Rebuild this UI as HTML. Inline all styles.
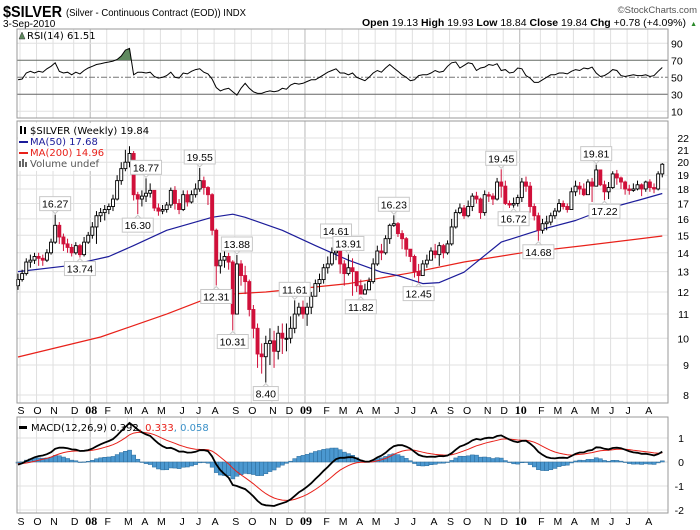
<!DOCTYPE html>
<html><head><meta charset="utf-8"><style>
html,body{margin:0;padding:0;background:#fff;}
svg{display:block;font-family:"Liberation Sans",sans-serif;}
</style></head><body>
<svg id="chart" width="700" height="530" viewBox="0 0 700 530" xmlns="http://www.w3.org/2000/svg">
<rect x="0" y="0" width="700" height="530" fill="#fff"/>
<g id="header">
<text x="3" y="17" font-size="16" font-weight="bold" textLength="59" lengthAdjust="spacingAndGlyphs">$SILVER</text>
<text x="66" y="16" font-size="10.5" textLength="180" lengthAdjust="spacingAndGlyphs">(Silver - Continuous Contract (EOD)) INDX</text>
<text x="697" y="13" font-size="9.5" fill="#555" text-anchor="end">©StockCharts.com</text>
<text x="3" y="27" font-size="10">3-Sep-2010</text>
<text x="686" y="26" font-size="10.5" text-anchor="end"><tspan font-weight="bold">Open</tspan> 19.13 <tspan font-weight="bold">High</tspan> 19.93 <tspan font-weight="bold">Low</tspan> 18.84 <tspan font-weight="bold">Close</tspan> 19.84 <tspan font-weight="bold">Chg</tspan> +0.78 (+4.09%)</text>
<text x="697" y="26" font-size="7" fill="#2a8a2a" text-anchor="end">▲</text>
</g>
<g id="rsiG"></g>
<g id="priceG"></g>
<g id="xaxisG"></g>
<g id="macdG"></g>
</svg>
<script>
const closes=[12.6,12.9,13.5,13.6, 13.8,13.7,13.6,14.0, 14.6,15.6,14.9,14.5,14.3, 14.0,14.4,13.9,14.6,
15.0,15.5,16.2,16.4, 16.6,16.8,17.3,18.6,19.5, 20.0,20.7,17.6,17.3, 17.5,17.7,17.9,16.7, 16.5,16.6,16.9,17.9,17.0, 16.6,17.6,17.1,17.6, 18.0,18.6,18.1,17.6, 15.3,13.3,13.6,13.8,13.5, 11.0,13.4,12.8,12.5, 11.2,10.4,9.4,9.3,9.8, 9.9,9.5,10.2,10.0, 10.0,10.4,11.0,11.3,
11.0,11.3,11.8,12.4,12.6, 13.2,13.4,14.0,14.1, 13.4,12.9,13.2,13.0, 12.3,11.9,12.1,12.5, 13.4,14.1,14.0,14.8,15.6, 15.7,15.1,14.8,14.2, 13.8,13.0,12.8,13.4,13.6, 14.1,13.9,14.4,14.0, 14.5,15.5,16.4,16.7, 16.2,16.8,17.5,17.3,16.4, 17.6,17.5,17.3,18.5, 18.2,17.0,16.9,17.0,
17.4,18.5,18.2,16.8,16.2, 15.3,15.7,15.8,16.2, 16.5,17.0,16.8,16.6, 17.8,18.2,18.0,17.6,18.5, 18.2,19.4,18.3,17.8, 18.1,19.1,18.8,18.5, 18.0,17.9,18.0,18.3,18.0, 18.5,18.1,18.0,19.1, 19.84];
const highs=[12.9,13.1,13.7,13.9, 14.0,14.0,13.9,14.2, 14.8,16.27,15.8,15.1,14.8, 14.5,14.6,14.5,14.9,
15.2,15.8,16.5,16.7, 16.9,17.0,17.6,19.0,20.0, 21.0,21.3,20.9,17.8, 17.9,18.77,18.4,17.9, 17.0,16.9,17.1,18.1,18.2, 17.3,17.9,17.9,17.9, 18.4,19.55,18.9,18.2, 17.7,15.4,14.0,14.1,14.0, 13.6,13.88,13.6,13.3, 12.6,11.4,10.6,9.8,10.1, 10.4,10.3,10.5,10.6, 10.6,10.9,11.61,11.5,
11.6,11.5,12.0,12.6,12.9, 13.4,13.8,14.3,14.61, 14.2,13.6,13.91,13.7, 13.0,12.6,12.4,12.7, 13.7,14.4,14.5,15.0,15.7, 16.23,15.8,15.3,14.9, 14.0,13.9,13.4,13.6,13.9, 14.3,14.5,14.6,14.5, 14.7,16.0,16.6,17.0, 16.9,17.2,17.7,17.8,17.4, 17.9,17.8,17.7,18.8, 19.45,18.6,17.2,17.4,
17.6,18.8,18.9,18.5,17.0, 16.4,16.0,16.2,16.4, 16.7,17.3,17.2,17.0, 18.1,18.6,18.5,18.4,18.7, 18.8,19.81,19.4,18.6, 18.5,19.3,19.4,18.9, 18.6,18.3,18.4,18.6,18.4, 18.6,18.7,18.4,19.3, 19.93];
const lows=[12.1,12.5,12.8,13.2, 13.4,13.3,13.3,13.5, 13.9,14.5,14.5,14.1,14.0, 13.8,13.9,13.74,13.8,
14.5,14.8,14.5,15.8, 15.9,16.3,16.5,17.2,18.3, 19.3,19.6,17.2,16.30, 16.8,17.1,17.4,16.5, 16.2,16.3,16.4,16.7,16.6, 16.3,16.5,16.8,17.0, 17.4,17.8,17.6,16.9, 15.0,12.31,12.9,13.2,13.1, 10.31,11.2,12.3,11.9, 10.9,10.0,8.9,8.7,8.40, 9.0,8.9,9.2,9.4, 9.5,9.8,10.2,10.9,
10.8,10.5,11.0,11.8,12.0, 12.4,12.9,13.3,13.6, 12.9,12.3,12.8,11.82, 12.0,11.9,11.9,12.2, 12.4,13.3,13.6,13.9,14.5, 15.5,14.9,14.2,13.8, 13.5,12.7,12.45,12.8,13.2, 13.6,13.7,13.3,13.7, 13.9,14.4,15.4,16.3, 16.0,16.1,16.5,17.0,16.0, 16.2,17.1,16.9,17.2, 17.4,16.9,16.7,16.72,
16.8,17.1,17.8,16.4,15.9, 14.68,15.1,15.3,15.6, 16.0,16.4,16.6,16.4, 16.9,17.5,17.6,17.5,17.6, 17.1,18.2,18.2,17.22, 17.3,18.0,18.3,18.0, 17.6,17.6,17.8,17.9,17.5, 17.8,17.8,17.7,17.9, 18.84];
const firstOpen=12.3;
const rsi=[47,48,55,57, 55,57,56,60, 63,67,57,55,56, 53,56,54,58,
61,63,65,66, 67,68,69,71,75, 82,84,53,56, 56,55,56,51, 49,50,52,56,50, 49,55,54,57, 59,60,56,54, 48,38,34,36,37, 33,29,37,43, 37,33,31,31,33, 34,33,34,37, 36,41,43,42,
43,45,47,47,50, 53,56,58,60, 55,55,53,55, 50,48,46,50, 55,58,56,61,65, 61,57,53,50, 46,47,52,53,53, 55,58,56,57, 63,67,68,61, 64,67,66,58,61, 62,65,64,66, 58,59,55,56,
61,60,52,49,44, 44,47,50,53, 53,55,55,54, 57,59,58,61,60, 62,55,51,52, 55,59,58,52, 51,52,53,52,52, 53,51,52,57, 61.5];
const ma50Weeks=[0,12,22,28,36,47,52,55,64,72,80,88,92,98,102,108,117,126,135,142,150,156];
const ma50Vals=[13.0,13.3,13.8,14.4,15.3,16.1,16.3,16.1,15.3,14.4,13.6,12.97,12.8,12.4,12.45,12.97,14.6,15.3,15.9,16.6,17.2,17.68];
const ma200Weeks=[0,20,36,48,60,80,96,108,122,137,156];
const ma200Vals=[9.29,10.05,11.0,11.86,12.0,12.4,12.97,13.5,14.0,14.4,14.96];
const annLabels=["16.27","13.74","16.30","18.77","19.55","12.31","10.31","13.88","8.40","11.61","14.61","13.91","11.82","16.23","12.45","19.45","16.72","14.68","19.81","17.22"];
const annWeeks=[9,15,29,31,44,48,52,53,60,67,77,80,83,91,97,117,120,126,140,142];
const annSide=["a","b","b","a","a","b","b","a","b","a","a","a","b","a","b","a","b","b","a","b"];
const monthLabels=["S","O","N","D","08","F","M","A","M","J","J","A","S","O","N","D","09","F","M","A","M","J","J","A","S","O","N","D","10","F","M","A","M","J","J","A"];
const monthWeeks=[0,4,8,13,17,21,26,30,34,39,43,47,52,56,61,65,69,74,78,82,86,91,95,100,104,108,113,117,121,126,130,134,139,143,147,152];
const priceTicks=[8,9,10,11,12,13,14,15,16,17,18,19,20,21,22];
const rsiTicks=[10,30,50,70,90];
const macdTicks=[1,0,-1,-2];

const NS="http://www.w3.org/2000/svg";
const L=17,R=668;
const X=w=>18+w*4.13;
const rsiTop=29,rsiBot=118, yR=v=>77.3-(v-50)*0.85;
const pTop=121,pBot=403, yP=p=>138+(Math.log(22)-Math.log(p))*254;
const mTop=417,mBot=513, yM=m=>462-24*m;
function mk(parent,tag,attrs){const e=document.createElementNS(NS,tag);for(const k in attrs)e.setAttribute(k,attrs[k]);parent.appendChild(e);return e;}

const rsiG=document.getElementById('rsiG'),priceG=document.getElementById('priceG'),xaxisG=document.getElementById('xaxisG'),macdG=document.getElementById('macdG');

function vgrid(g,top,bot){
  monthWeeks.forEach((w,i)=>{const yr=/\d/.test(monthLabels[i]);
    const ln=mk(g,'line',{x1:X(w)+2,x2:X(w)+2,y1:top,y2:bot,stroke:yr?'#b8b8b8':'#e0e0e0','stroke-width':1});
    
    });
}
// RSI panel
vgrid(rsiG,rsiTop,rsiBot);
rsiTicks.forEach(t=>{
  const dark=(t===70||t===30);
  const ln=mk(rsiG,'line',{x1:L,x2:R,y1:yR(t),y2:yR(t),stroke:dark?'#666':(t===50?'#777':'#e0e0e0'),'stroke-width':1,'stroke-dasharray':t===50?'6,2,2,2':'none'});
  
  
  const tx=mk(rsiG,'text',{x:671,y:yR(t)+4,'font-size':10.5});tx.textContent=t;
  
  
});
const clip=mk(rsiG,'clipPath',{id:'above70'});mk(clip,'rect',{x:L,y:rsiTop,width:R-L,height:yR(70)-rsiTop});
let rsiPts=rsi.map((v,i)=>X(i)+','+yR(v).toFixed(1)).join(' ');
const rsiFill=mk(rsiG,'polygon',{points:X(0)+','+yR(70)+' '+rsiPts+' '+X(rsi.length-1)+','+yR(70),fill:'#5f8a5f','clip-path':'url(#above70)'});


const rsiLine=mk(rsiG,'polyline',{points:rsiPts,fill:'none',stroke:'#000','stroke-width':1});


const rsiBorder=mk(rsiG,'rect',{x:L,y:rsiTop,width:R-L,height:rsiBot-rsiTop,fill:'none',stroke:'#999'});


mk(rsiG,'polygon',{points:'19,39 22,32 25,39',fill:'#5f8a5f',stroke:'#333','stroke-width':0.5});
const rsiLbl=mk(rsiG,'text',{x:27,y:39,'font-size':10,'font-family':'"DejaVu Sans",sans-serif'});rsiLbl.textContent='RSI(14) 61.51';



// Price panel
vgrid(priceG,pTop,pBot);
priceTicks.forEach(t=>{
  const ln=mk(priceG,'line',{x1:L,x2:R,y1:yP(t),y2:yP(t),stroke:'#e0e0e0'});
  
  
  const tx=mk(priceG,'text',{x:689,y:yP(t)+4,'font-size':10.5,'text-anchor':'end'});tx.textContent=t;
  
  
});
function maLine(ws,vs,color,name){
  const pts=ws.map((w,i)=>X(w)+','+yP(vs[i]).toFixed(1)).join(' ');
  const pl=mk(priceG,'polyline',{points:pts,fill:'none',stroke:color,'stroke-width':1.2,'stroke-linejoin':'round'});
  
  
}
maLine(ma200Weeks,ma200Vals,'#e8211a','ma200-line');
maLine(ma50Weeks,ma50Vals,'#1c1c9a','ma50-line');
closes.forEach((c,i)=>{
  const o=i===0?firstOpen:closes[i-1];
  const up=c>=o; const col=up?'#000':'#d0103a';
  const x=X(i);
  const wk=mk(priceG,'line',{x1:x,x2:x,y1:yP(highs[i]),y2:yP(lows[i]),stroke:col,'stroke-width':1});
  
  
  const top=yP(Math.max(o,c)),bot=yP(Math.min(o,c));
  const b=mk(priceG,'rect',{x:x-1.5,y:top,width:3,height:Math.max(1,bot-top),fill:up?'#fff':'#d0103a',stroke:up?'#000':'#d0103a','stroke-width':0.9});
  
  
});
annLabels.forEach((t,i)=>{
  const v=parseFloat(t),x=X(annWeeks[i]);const above=annSide[i]==='a';
  const cy=above?yP(v)-11:yP(v)+11;
  const w=t.length>4?31:25;
  const g=mk(priceG,'g',{});
  
  
  mk(g,'rect',{x:x-w/2,y:cy-7,width:w,height:14,fill:'#fff',stroke:'#c8c8c8'});
  mk(g,'polygon',{points:above?`${x-3},${cy+7} ${x+3},${cy+7} ${x},${cy+10}`:`${x-3},${cy-7} ${x+3},${cy-7} ${x},${cy-10}`,fill:'#fff',stroke:'#c8c8c8'});
  const tx=mk(g,'text',{x:x,y:cy+4,'font-size':10.5,'text-anchor':'middle'});tx.textContent=t;
});
const pBorder=mk(priceG,'rect',{x:L,y:pTop,width:R-L,height:pBot-pTop,fill:'none',stroke:'#999'});


const leg=mk(priceG,'g',{'font-family':'"DejaVu Sans",sans-serif','font-size':10});


mk(leg,'rect',{x:18,y:123,width:74,height:48,fill:'#fff',opacity:0.9});
[['$SILVER (Weekly) 19.84','#000',134],['MA(50) 17.68','#1c1c9a',145],['MA(200) 14.96','#e8211a',156],['Volume undef','#555',167]].forEach((r,i)=>{
  const t=mk(leg,'text',{x:30,y:r[2],fill:r[1]});t.textContent=r[0];
  if(i===0){mk(leg,'rect',{x:20,y:r[2]-8,width:2,height:8,fill:'#000'});mk(leg,'rect',{x:24,y:r[2]-7,width:2,height:7,fill:'#000'});}
  else if(i<3){mk(leg,'rect',{x:19,y:r[2]-4,width:9,height:2,fill:r[1]});}
  else{mk(leg,'rect',{x:19,y:r[2]-6,width:2,height:6,fill:'#666'});mk(leg,'rect',{x:22,y:r[2]-8,width:2,height:8,fill:'#666'});mk(leg,'rect',{x:25,y:r[2]-5,width:2,height:5,fill:'#666'});}
});

// X axis labels
[[409],[520]].forEach(r=>{
  monthLabels.forEach((m,i)=>{
    const yr=/\d/.test(m);
    const t=mk(xaxisG,'text',{x:X(monthWeeks[i])+3,y:r[0]+5,'font-size':yr?12:10.5,'font-weight':yr?'bold':'normal','font-family':yr?'"Liberation Serif",serif':'"Liberation Sans",sans-serif','text-anchor':'middle'});
    t.textContent=m;
    
    
  });
});

// MACD panel
function ema(arr,n,seed){const k=2/(n+1);let e=seed;return arr.map(v=>(e=v*k+e*(1-k)));}
const e12=ema(closes,12,closes[0]-0.35),e26=ema(closes,26,closes[0]-0.2);
const macd=e12.map((v,i)=>v-e26[i]);
const signal=ema(macd,9,-0.05);
vgrid(macdG,mTop,mBot);
macdTicks.forEach(t=>{
  const ln=mk(macdG,'line',{x1:L,x2:R,y1:yM(t),y2:yM(t),stroke:'#e0e0e0'});
  
  
  const tx=mk(macdG,'text',{x:684,y:yM(t)+4,'font-size':10.5,'text-anchor':'end'});tx.textContent=t;
  
  
});
macd.forEach((m,i)=>{const h=m-signal[i];const y0=yM(0),y1=yM(h);
  const b=mk(macdG,'rect',{x:X(i)-2,y:Math.min(y0,y1),width:4.1,height:Math.max(0.5,Math.abs(y1-y0)),fill:'#4b98d0',stroke:'#2a6a9a','stroke-width':0.5});
  
  });
const sigL=mk(macdG,'polyline',{points:signal.map((v,i)=>X(i)+','+yM(v).toFixed(1)).join(' '),fill:'none',stroke:'#e8211a','stroke-width':1});


const macdL=mk(macdG,'polyline',{points:macd.map((v,i)=>X(i)+','+yM(v).toFixed(1)).join(' '),fill:'none',stroke:'#000','stroke-width':1.8});


const mBorder=mk(macdG,'rect',{x:L,y:mTop,width:R-L,height:mBot-mTop,fill:'none',stroke:'#999'});


mk(macdG,'rect',{x:19,y:426,width:8,height:3,fill:'#000'});
const mleg=mk(macdG,'text',{x:31,y:431,'font-size':10,'font-family':'"DejaVu Sans",sans-serif'});
mleg.innerHTML='MACD(12,26,9) 0.392<tspan fill="#e8211a">, 0.333</tspan><tspan fill="#3a90c8">, 0.058</tspan>';


</script>
</body></html>
